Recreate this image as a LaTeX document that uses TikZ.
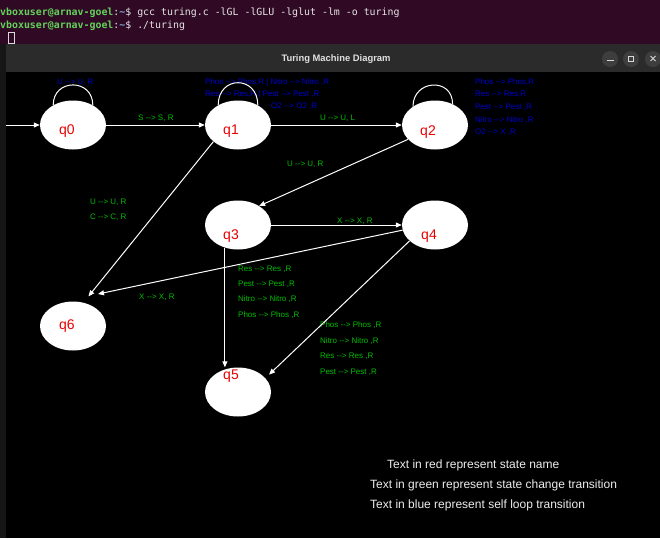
\documentclass[tikz,border=0pt]{standalone}
\usepackage{fontspec}
\setmainfont{Liberation Sans}
\newfontfamily\termfont{DejaVu Sans Mono}
\usetikzlibrary{arrows.meta,shapes.geometric}

\definecolor{termbg}{HTML}{300A24}
\definecolor{titlebg}{HTML}{2B2B2B}
\definecolor{frameshade}{HTML}{161616}
\definecolor{btnbg}{HTML}{3E3E3E}
\definecolor{promptgreen}{HTML}{62D35A}
\definecolor{pathblue}{HTML}{7FA6D9}
\definecolor{stategreen}{RGB}{0,190,0}
\definecolor{loopblue}{RGB}{0,0,205}
\definecolor{namered}{RGB}{232,0,0}

\tikzset{
  state/.style={ellipse, fill=white, minimum width=66pt, minimum height=49pt, inner sep=0pt},
  statename/.style={text=namered, font=\fontsize{14}{14}\selectfont, inner sep=0pt},
  translabel/.style={text=stategreen, font=\fontsize{8}{8}\selectfont, anchor=west, inner sep=0pt},
  looplabel/.style={text=loopblue, font=\fontsize{8}{8}\selectfont, anchor=west, inner sep=0pt},
  trans/.style={draw=white, line width=1pt, -{Triangle[length=6pt,width=5pt]}},
  selfloop/.style={draw=white, line width=1pt},
  legend/.style={text=white!93!black, font=\fontsize{12}{12}\selectfont, anchor=west, inner sep=0pt},
  termtext/.style={text=white!90!black, font=\termfont\fontsize{9.9}{9.9}\selectfont, anchor=west, inner sep=0pt},
  btnicon/.style={draw=white!85!black, line width=0.9pt}
}

\begin{document}
\begin{tikzpicture}[x=1pt,y=-1pt]
\useasboundingbox (0,0) rectangle (660,538);
% terminal behind the window
\fill[termbg] (0,0) rectangle (660,538);
\fill[frameshade] (0,44) rectangle (6,538);
\fill[black] (6,72) rectangle (660,538);
\fill[titlebg] (6,44) rectangle (660,72);
\node[termtext] (cmd1) at (0,13) {\textcolor{promptgreen}{\bfseries vboxuser@arnav-goel}:\textcolor{pathblue}{\bfseries\textasciitilde}\$ gcc turing.c -lGL -lGLU -lglut -lm -o turing};
\node[termtext] (cmd2) at (0,26) {\textcolor{promptgreen}{\bfseries vboxuser@arnav-goel}:\textcolor{pathblue}{\bfseries\textasciitilde}\$ ./turing};
\draw[white!85!black, line width=0.8pt] (8.5,32.5) rectangle (14.5,43.5);
% title bar
\node[text=white!88!black, font=\bfseries\fontsize{9.4}{9.4}\selectfont] (title) at (336,59) {Turing Machine Diagram};
\fill[btnbg] (610,59) circle [radius=8];
\fill[btnbg] (631,59) circle [radius=8];
\fill[btnbg] (653,59) circle [radius=8];
\draw[btnicon] (606.5,60) -- (613.5,60);
\draw[btnicon] (628.5,56) rectangle (633.5,61);
\draw[btnicon] (650.5,56) -- (655.5,61);
\draw[btnicon] (650.5,61) -- (655.5,56);
% states
\node[state] (q0) at (73,125) {};
\node[state] (q1) at (238,125) {};
\node[state] (q2) at (435,125) {};
\node[state] (q3) at (238,225) {};
\node[state] (q4) at (435,225) {};
\node[state] (q6) at (73,326) {};
\node[state] (q5) at (238,392) {};
\node[statename] (q0name) at (67,131) {q0};
\node[statename] (q1name) at (231,131) {q1};
\node[statename] (q2name) at (428,132) {q2};
\node[statename] (q3name) at (231,236) {q3};
\node[statename] (q4name) at (429,236) {q4};
\node[statename] (q6name) at (67,326) {q6};
\node[statename] (q5name) at (231,376) {q5};
% self loop transitions
\node[looplabel] (self0) at (57,82) {U -{}-> U, R};
\node[looplabel] (self1a) at (205,82) {Phos -{}-> Phos,R | Nitro -{}-> Nitro ,R};
\node[looplabel] (self1b) at (205,94) {Res -{}-> Res,R | Pest -{}-> Pest ,R};
\node[looplabel] (self1c) at (271,106) {O2 -{}-> O2 ,R};
\node[looplabel] (self2a) at (475,82) {Phos -{}-> Phos,R};
\node[looplabel] (self2b) at (475,94) {Res -{}-> Res,R};
\node[looplabel] (self2c) at (475,107) {Pest -{}-> Pest ,R};
\node[looplabel] (self2d) at (475,120) {Nitro -{}-> Nitro ,R};
\node[looplabel] (self2e) at (475,132) {O2 -{}-> X ,R};
% state change transitions
\node[translabel] (t01) at (138,118) {S -{}-> S, R};
\node[translabel] (t12) at (320,118) {U -{}-> U, L};
\node[translabel] (t23) at (287,164) {U -{}-> U, R};
\node[translabel] (t16a) at (90,202) {U -{}-> U, R};
\node[translabel] (t16b) at (90,217) {C -{}-> C, R};
\node[translabel] (t34) at (337,221) {X -{}-> X, R};
\node[translabel] (t46) at (139,297) {X -{}-> X, R};
\node[translabel] (t35a) at (238,269) {Res -{}-> Res ,R};
\node[translabel] (t35b) at (238,284) {Pest -{}-> Pest ,R};
\node[translabel] (t35c) at (238,299) {Nitro -{}-> Nitro ,R};
\node[translabel] (t35d) at (238,315) {Phos -{}-> Phos ,R};
\node[translabel] (t45a) at (320,325) {Phos -{}-> Phos ,R};
\node[translabel] (t45b) at (320,341) {Nitro -{}-> Nitro ,R};
\node[translabel] (t45c) at (320,356) {Res -{}-> Res ,R};
\node[translabel] (t45d) at (320,372) {Pest -{}-> Pest ,R};
% loops and arrows
\draw[selfloop] (q0.135) .. controls +(0,-27) and +(0,-27) .. (q0.45);
\draw[selfloop] (q1.135) .. controls +(0,-30) and +(0,-30) .. (q1.45);
\draw[selfloop] (q2.140) .. controls +(0,-27) and +(0,-27) .. (q2.50);
\coordinate (init) at (6,125);
\coordinate (q6top) at (98,294);
\draw[trans] (init) -- (q0);
\draw[trans] (q0) -- (q1);
\draw[trans] (q1) -- (q2);
\draw[trans] (q2.208) -- (q3.42);
\draw[trans, shorten >=8pt] (q1.214) -- (q6.66);
\draw[trans] (q3) -- (q4);
\draw[trans] (q4.189) -- (q6top);
\draw[trans] (q3.240) -- (q3.240 |- q5.north);
\draw[trans, shorten >=5pt] (q4.212) -- (q5.27);
% legend
\node[legend] (keyred) at (387,465) {Text in red represent state name};
\node[legend] (keygreen) at (370,485) {Text in green represent state change transition};
\node[legend] (keyblue) at (370,505) {Text in blue represent self loop transition};
\end{tikzpicture}
\end{document}
